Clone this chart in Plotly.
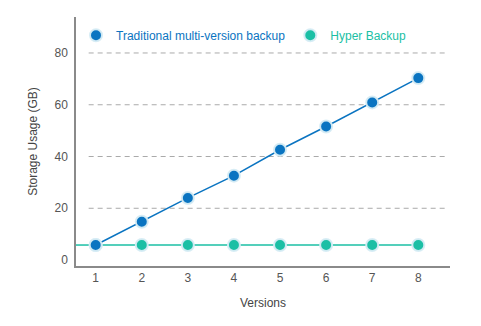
import plotly.graph_objects as go

# Storage used by each backup strategy across successive versions
versions = [1, 2, 3, 4, 5, 6, 7, 8]
traditional_gb = [5.8, 14.8, 24.0, 32.6, 42.6, 51.6, 60.9, 70.3]
hyper_gb = [5.8, 5.8, 5.8, 5.8, 5.8, 5.8, 5.8, 5.8]
y_ticks = [0, 20, 40, 60, 80]
grid_values = [20, 40, 60, 80]

BLUE = "#0a74c1"
TEAL = "#1bbfa5"
HALO = "rgba(214,236,244,0.95)"
FONT = "Liberation Sans, Arial, sans-serif"

X_RANGE = [0.573, 8.688]
Y_RANGE = [-2.3, 93.9]

fig = go.Figure()


def add_series(values, color, label, rank):
    # connecting line (kept out of the legend) plus the dots that carry the legend entry
    fig.add_trace(go.Scatter(
        x=versions, y=values, mode="lines", showlegend=False,
        line=dict(color=color, width=1.5), hoverinfo="skip",
    ))
    fig.add_trace(go.Scatter(
        x=versions, y=values, mode="markers",
        name=f"<span style='color:{color}'>{label}</span>",
        marker=dict(size=12, color=color, line=dict(color=HALO, width=2)),
        legendrank=rank,
    ))


add_series(hyper_gb, TEAL, "Hyper Backup", 2)
add_series(traditional_gb, BLUE, "Traditional multi-version backup", 1)

# dashed horizontal guides, inset from the axes
shapes = []
for g in grid_values:
    shapes.append(dict(type="line", xref="x", yref="y", x0=0.848, x1=8.58, y0=g, y1=g,
                       line=dict(color="#aaaaaa", width=1, dash="5px,4px"), layer="below"))
# Hyper Backup baseline continues to the value axis
shapes.append(dict(type="line", xref="x", yref="y", x0=X_RANGE[0], x1=versions[0],
                   y0=hyper_gb[0], y1=hyper_gb[0], line=dict(color=TEAL, width=1.5), layer="below"))

fig.update_layout(
    width=481, height=326,
    margin=dict(l=76, r=31, t=17, b=60),
    paper_bgcolor="white", plot_bgcolor="white",
    font=dict(family=FONT, size=12, color="#555555"),
    shapes=shapes,
    showlegend=True,
    legend=dict(orientation="h", x=0.0, y=0.985, xanchor="left", yanchor="top",
                bgcolor="rgba(0,0,0,0)", font=dict(size=12), itemwidth=30,
                traceorder="normal"),
    xaxis=dict(
        range=X_RANGE, tickvals=versions, showgrid=False, zeroline=False,
        showline=True, linecolor="#8a8a8a", linewidth=1.5, ticks="",
        title=dict(text="Versions", font=dict(size=12, color="#444444"), standoff=14),
        tickfont=dict(size=12, color="#555555"),
    ),
    yaxis=dict(
        range=Y_RANGE, tickvals=y_ticks, showgrid=False, zeroline=False,
        showline=True, linecolor="#8a8a8a", linewidth=1.5, ticks="",
        ticklabelstandoff=4,
        title=dict(text="Storage Usage (GB)", font=dict(size=12, color="#444444"), standoff=14),
        tickfont=dict(size=12, color="#555555"),
    ),
)

fig.write_html("out.html")
